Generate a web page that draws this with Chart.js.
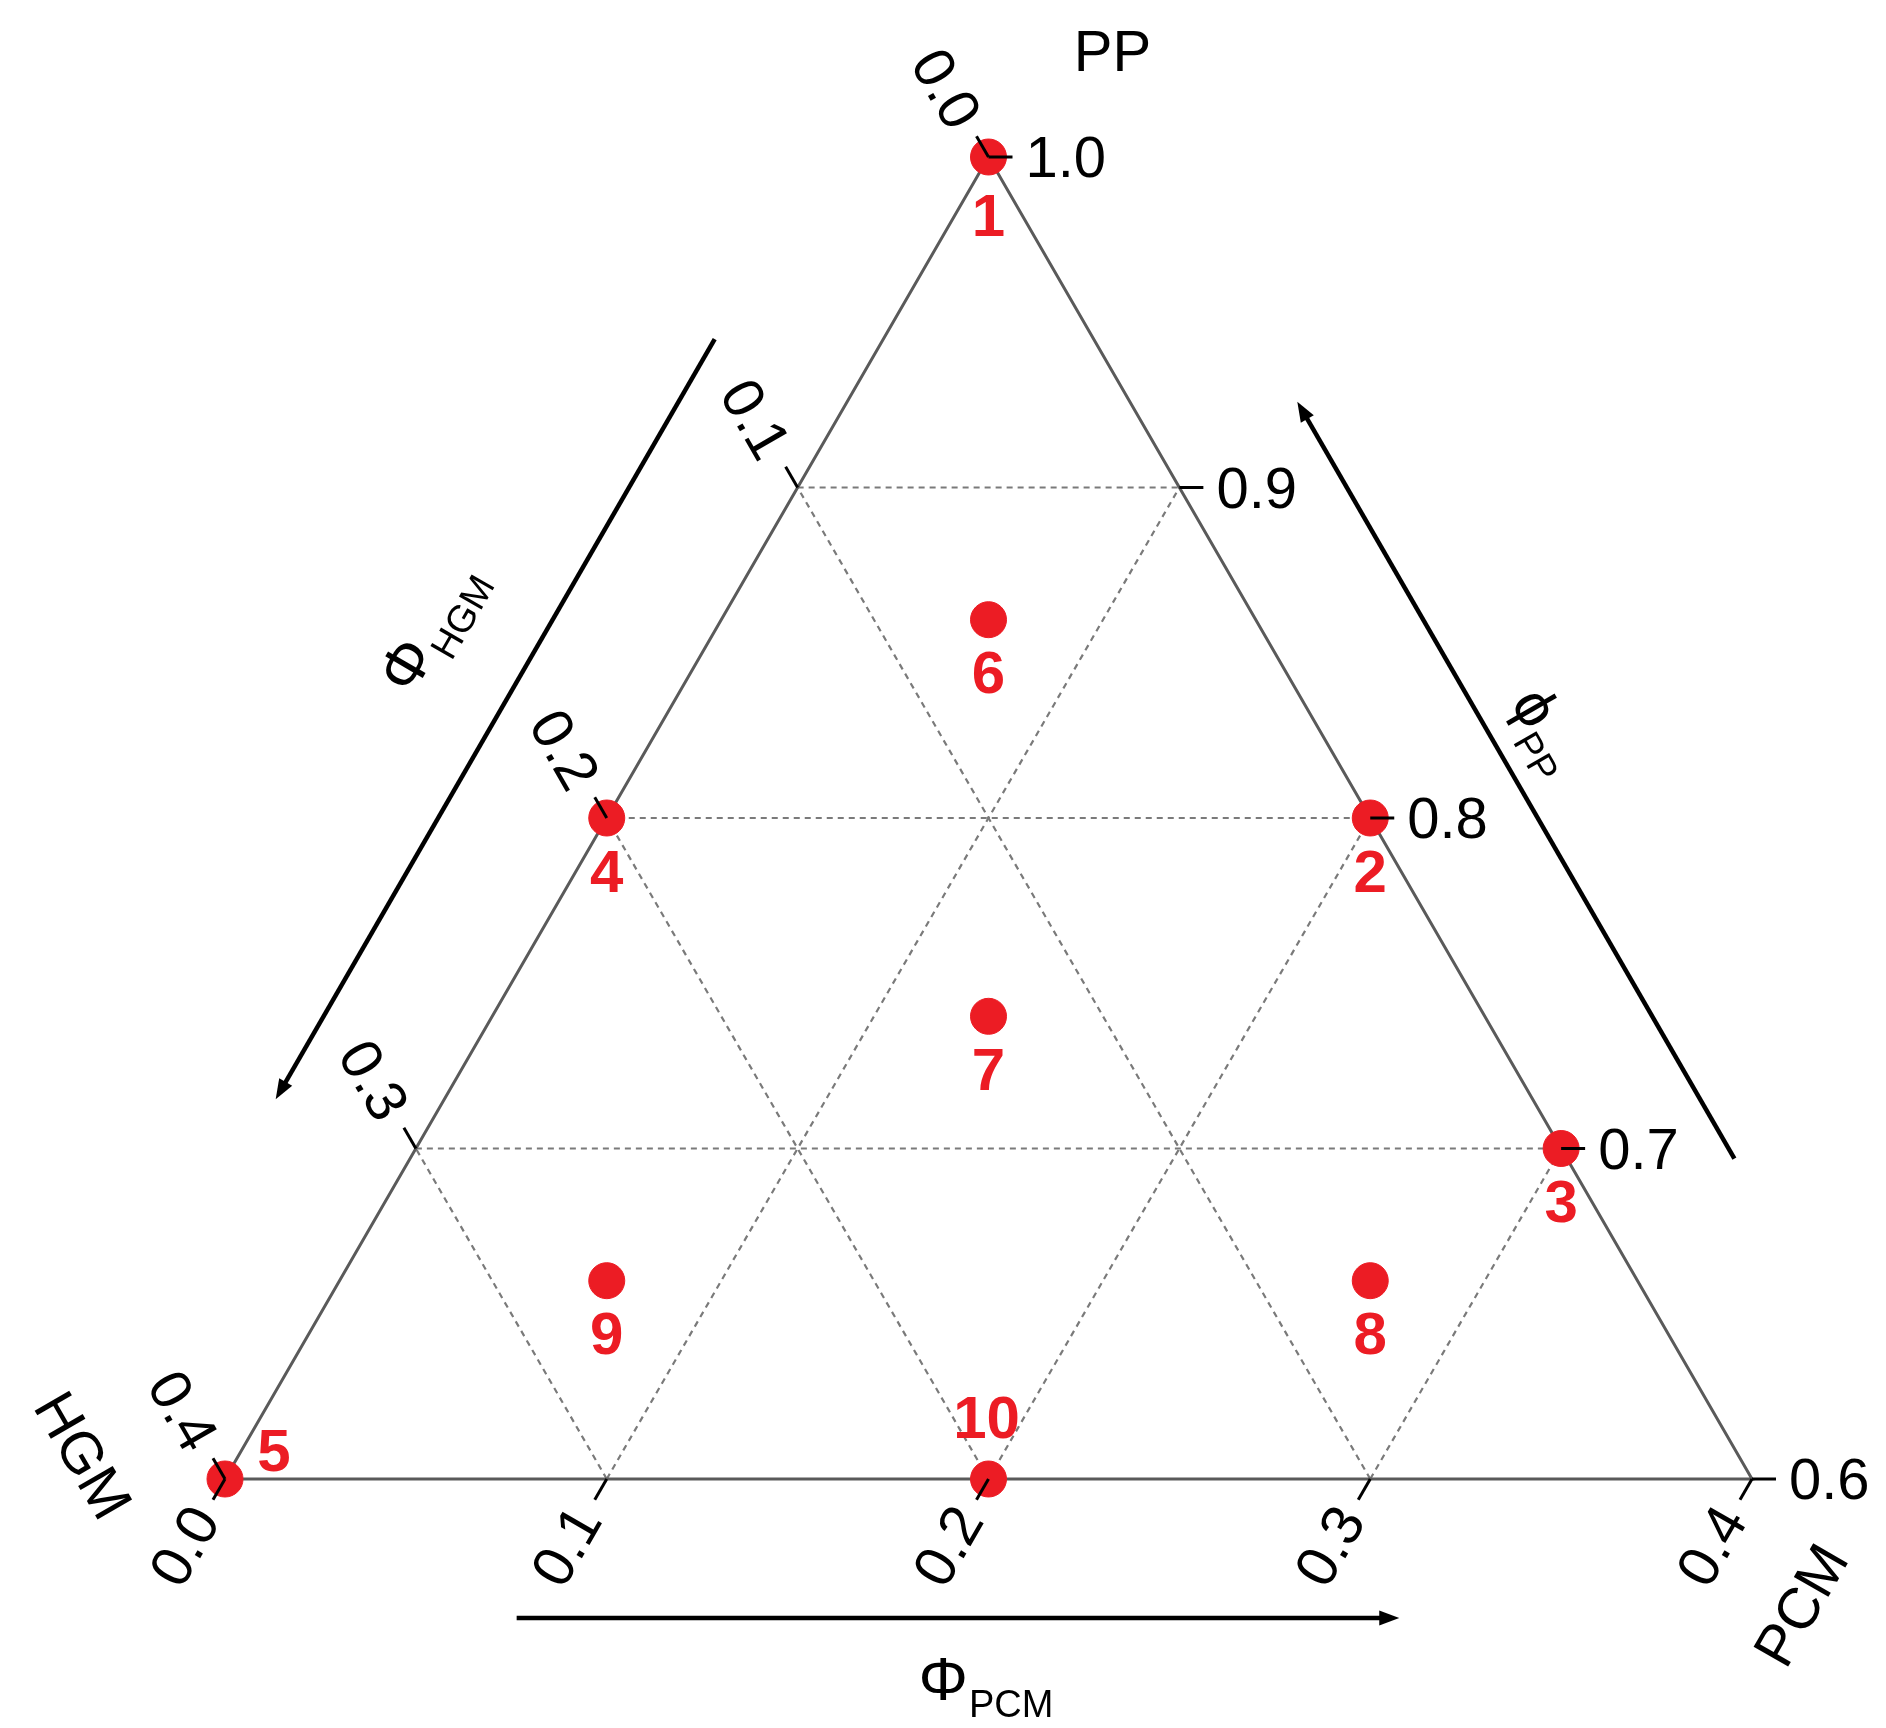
<!DOCTYPE html>
<html>
<head>
<meta charset="utf-8">
<script src="https://cdn.jsdelivr.net/npm/chart.js@4.4.0/dist/chart.umd.min.js"></script>
<style>
  html, body { margin: 0; padding: 0; background: #fff; }
  #wrap { width: 1886px; height: 1728px; position: relative; }
</style>
</head>
<body>
<div id="wrap"><canvas id="myChart"></canvas></div>
<script>
// samples (volume fractions)
const sampleIds = ["1", "2", "3", "4", "5", "6", "7", "8", "9", "10"];
const ppValues  = [1.0, 0.8, 0.7, 0.8, 0.6, 0.86, 0.74, 0.66, 0.66, 0.6];
const hgmValues = [0.0, 0.0, 0.0, 0.2, 0.4, 0.07, 0.13, 0.07, 0.27, 0.2];
const pcmValues = [0.0, 0.2, 0.3, 0.0, 0.0, 0.07, 0.13, 0.27, 0.07, 0.2];

// axis ticks
const ppTicks  = [1.0, 0.9, 0.8, 0.7, 0.6];
const hgmTicks = [0.0, 0.1, 0.2, 0.3, 0.4];
const pcmTicks = [0.0, 0.1, 0.2, 0.3, 0.4];
const gridLevels = [0.1, 0.2, 0.3];

const ppMin = 0.6;
const span = 1 - ppMin;

const redColor = "rgb(236, 28, 36)";
const edgeColor = "#5a5a5a";
const gridColor = "#7a7a7a";
const fontFamily = "'Liberation Sans', Arial, sans-serif";

// ternary -> cartesian (x across the base, y = PP)
function tern(pp, hgm, pcm) {
    return { x: (pcm - hgm + span) / 2, y: pp };
}

const edgePoints = [tern(1, 0, 0), tern(ppMin, span, 0), tern(ppMin, 0, span), tern(1, 0, 0)];

const gridDatasets = [];
gridLevels.forEach((g) => {
    gridDatasets.push([tern(1 - g, g, 0), tern(1 - g, 0, g)]);           // PP const
    gridDatasets.push([tern(ppMin, span - g, g), tern(1 - g, 0, g)]);    // PCM const
    gridDatasets.push([tern(ppMin, g, span - g), tern(1 - g, g, 0)]);    // HGM const
});

const samplePoints = sampleIds.map((id, i) => tern(ppValues[i], hgmValues[i], pcmValues[i]));

const labelOffsets = { "1": [0, 60], "5": [49, -27], "10": [-2, -60] };

function subText(ctx, main, sub, size, subSize) {
    ctx.font = size + "px " + fontFamily;
    const w1 = ctx.measureText(main).width;
    ctx.font = subSize + "px " + fontFamily;
    const w2 = ctx.measureText(sub).width;
    let x = -(w1 + w2) / 2;
    ctx.textAlign = "left";
    ctx.textBaseline = "alphabetic";
    ctx.font = size + "px " + fontFamily;
    ctx.fillText(main, x, size * 0.36);
    ctx.font = subSize + "px " + fontFamily;
    ctx.fillText(sub, x + w1 + 1, size * 0.36 + subSize * 0.45);
}

function arrow(ctx, x1, y1, x2, y2) {
    const ang = Math.atan2(y2 - y1, x2 - x1);
    const head = 20;
    ctx.beginPath();
    ctx.moveTo(x1, y1);
    ctx.lineTo(x2 - Math.cos(ang) * head * 0.6, y2 - Math.sin(ang) * head * 0.6);
    ctx.lineWidth = 4.5;
    ctx.strokeStyle = "#000";
    ctx.stroke();
    ctx.beginPath();
    ctx.moveTo(x2, y2);
    ctx.lineTo(x2 - head * Math.cos(ang) + 7.5 * Math.sin(ang), y2 - head * Math.sin(ang) - 7.5 * Math.cos(ang));
    ctx.lineTo(x2 - head * Math.cos(ang) - 7.5 * Math.sin(ang), y2 - head * Math.sin(ang) + 7.5 * Math.cos(ang));
    ctx.closePath();
    ctx.fillStyle = "#000";
    ctx.fill();
}

const ternaryDecor = {
    id: "ternaryDecor",
    afterDatasetsDraw(chart) {
        const ctx = chart.ctx;
        const xs = chart.scales.x;
        const ys = chart.scales.y;
        const px = (p) => ({ x: xs.getPixelForValue(p.x), y: ys.getPixelForValue(p.y) });
        const s60 = Math.sin(Math.PI / 3);
        const c60 = 0.5;
        const tickLen = 24;

        ctx.save();
        ctx.fillStyle = "#000";
        ctx.strokeStyle = "#000";
        ctx.lineWidth = 3;

        // left axis: HGM
        hgmTicks.forEach((h) => {
            const b = px(tern(1 - h, h, 0));
            const d = { x: -c60, y: -s60 };
            ctx.beginPath();
            ctx.moveTo(b.x, b.y);
            ctx.lineTo(b.x + d.x * tickLen, b.y + d.y * tickLen);
            ctx.stroke();
            ctx.save();
            ctx.translate(b.x + d.x * 40, b.y + d.y * 40);
            ctx.rotate(Math.PI / 3);
            ctx.font = "58px " + fontFamily;
            ctx.textAlign = "right";
            ctx.textBaseline = "middle";
            ctx.fillText(h.toFixed(1), 0, 6);
            ctx.restore();
        });

        // bottom axis: PCM
        pcmTicks.forEach((c) => {
            const b = px(tern(ppMin, span - c, c));
            const d = { x: -c60, y: s60 };
            ctx.beginPath();
            ctx.moveTo(b.x, b.y);
            ctx.lineTo(b.x + d.x * tickLen, b.y + d.y * tickLen);
            ctx.stroke();
            ctx.save();
            ctx.translate(b.x + d.x * 38, b.y + d.y * 38);
            ctx.rotate(-Math.PI / 3);
            ctx.font = "58px " + fontFamily;
            ctx.textAlign = "right";
            ctx.textBaseline = "middle";
            ctx.fillText(c.toFixed(1), 0, 2);
            ctx.restore();
        });

        // right axis: PP
        ppTicks.forEach((p) => {
            const b = px(tern(p, 0, 1 - p));
            ctx.beginPath();
            ctx.moveTo(b.x, b.y);
            ctx.lineTo(b.x + tickLen, b.y);
            ctx.stroke();
            ctx.font = "58px " + fontFamily;
            ctx.textAlign = "left";
            ctx.textBaseline = "middle";
            ctx.fillText(p.toFixed(1), b.x + tickLen + 13, b.y + 4);
        });

        const A = px(tern(1, 0, 0));
        const B = px(tern(ppMin, span, 0));
        const C = px(tern(ppMin, 0, span));
        const along = (P, Q, t, nx, ny, off) => ({
            x: P.x + (Q.x - P.x) * t + nx * off,
            y: P.y + (Q.y - P.y) * t + ny * off,
        });

        // direction arrows
        let p1 = along(B, A, 0.807, -s60, -c60, 146);
        let p2 = along(B, A, 0.232, -s60, -c60, 146);
        arrow(ctx, p1.x, p1.y, p2.x, p2.y);
        p1 = along(A, C, 0.8125, s60, -c60, 145);
        p2 = along(A, C, 0.24, s60, -c60, 145);
        arrow(ctx, p1.x, p1.y, p2.x, p2.y);
        p1 = along(B, C, 0.191, 0, 1, 139);
        p2 = along(B, C, 0.769, 0, 1, 139);
        arrow(ctx, p1.x, p1.y, p2.x, p2.y);

        ctx.fillStyle = "#000";
        let q = along(B, A, 0.55, -s60, -c60, 252);
        ctx.save();
        ctx.translate(q.x, q.y);
        ctx.rotate(-Math.PI / 3);
        subText(ctx, "\u03A6", "HGM", 62, 38);
        ctx.restore();

        q = along(A, C, 0.508, s60, -c60, 200);
        ctx.save();
        ctx.translate(q.x, q.y);
        ctx.rotate(Math.PI / 3);
        subText(ctx, "\u03D5", "PP", 60, 38);
        ctx.restore();

        q = along(B, C, 0.498, 0, 1, 199);
        ctx.save();
        ctx.translate(q.x, q.y);
        subText(ctx, "\u03A6", "PCM", 62, 38);
        ctx.restore();

        // corner titles
        ctx.font = "58px " + fontFamily;
        ctx.textAlign = "center";
        ctx.textBaseline = "middle";
        ctx.fillText("PP", A.x + 124, A.y - 102);
        ctx.save();
        ctx.translate(B.x - 145, B.y - 22);
        ctx.rotate(Math.PI / 3);
        ctx.fillText("HGM", 0, 0);
        ctx.restore();
        ctx.save();
        ctx.translate(C.x + 52, C.y + 128);
        ctx.rotate(-Math.PI / 3);
        ctx.fillText("PCM", 0, 0);
        ctx.restore();

        // sample numbers
        ctx.fillStyle = redColor;
        ctx.font = "bold 60px " + fontFamily;
        samplePoints.forEach((pt, i) => {
            const p = px(pt);
            const off = labelOffsets[sampleIds[i]] || [0, 55];
            ctx.fillText(sampleIds[i], p.x + off[0], p.y + off[1] + 2);
        });
        ctx.restore();
    },
};

const datasets = [
    {
        label: "Samples",
        data: samplePoints,
        pointRadius: 18,
        pointBackgroundColor: redColor,
        pointBorderColor: redColor,
        pointBorderWidth: 1,
        showLine: false,
    },
    {
        label: "Edges",
        data: edgePoints,
        showLine: true,
        borderColor: edgeColor,
        borderWidth: 3,
        pointRadius: 0,
    },
];
gridDatasets.forEach((line) => {
    datasets.push({
        label: "grid",
        data: line,
        showLine: true,
        borderColor: gridColor,
        borderWidth: 2.2,
        borderDash: [6, 5],
        pointRadius: 0,
    });
});

const ctx = document.getElementById("myChart");

new Chart(ctx, {
    type: "scatter",
    data: { datasets: datasets },
    options: {
        responsive: true,
        maintainAspectRatio: false,
        animation: false,
        clip: false,
        layout: {
            padding: { left: 225, right: 134, top: 157, bottom: 249 },
        },
        scales: {
            x: { type: "linear", min: 0, max: span, display: false },
            y: { type: "linear", min: ppMin, max: 1.0, display: false },
        },
        plugins: {
            legend: { display: false },
            tooltip: { enabled: false },
        },
    },
    plugins: [ternaryDecor],
});
</script>
</body>
</html>
